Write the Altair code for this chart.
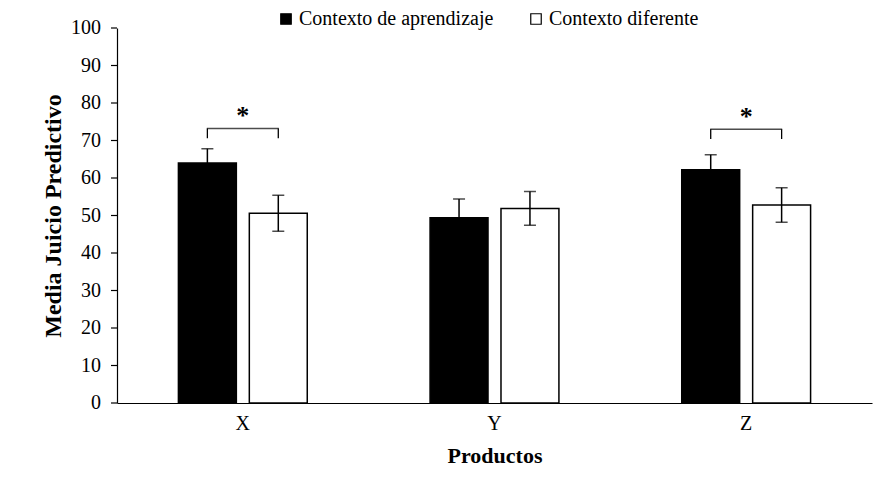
import altair as alt
import pandas as pd

categories = ["X", "Y", "Z"]
series = ["Contexto de aprendizaje", "Contexto diferente"]
aprendizaje = [64.0, 49.4, 62.2]
diferente = [50.6, 51.9, 52.8]
err_aprendizaje = [3.8, 5.0, 4.0]
err_diferente = [4.8, 4.5, 4.6]
sig_categories = ["X", "Z"]
sig_bracket_top = [73.2, 73.0]
sig_bracket_bottom = [70.6, 70.4]
sig_star_y = [78.0, 77.5]
y_ticks = list(range(0, 101, 10))

rows = []
for i, c in enumerate(categories):
    rows.append({"cat": c, "grupo": series[0], "media": aprendizaje[i], "err": err_aprendizaje[i]})
    rows.append({"cat": c, "grupo": series[1], "media": diferente[i], "err": err_diferente[i]})
df = pd.DataFrame(rows)
df["lo"] = df["media"] - df["err"]
df["hi"] = df["media"] + df["err"]

br = []
for i, c in enumerate(sig_categories):
    for g in series:
        br.append({"cat": c, "grupo": g, "top": sig_bracket_top[i], "bot": sig_bracket_bottom[i]})
df_br = pd.DataFrame(br)
df_sig = pd.DataFrame({"cat": sig_categories, "top": sig_bracket_top, "star": sig_star_y})
df_ticks = pd.DataFrame({"v": y_ticks, "lab": [str(v) for v in y_ticks]})

FONT = "Liberation Serif"

x_axis = alt.Axis(title="Productos", labelAngle=0, ticks=False)
x_scale = alt.Scale(paddingInner=0, paddingOuter=0)
x_enc = alt.X("cat:N", sort=categories, scale=x_scale, axis=x_axis)
xoff = alt.XOffset("grupo:N", sort=series,
                   scale=alt.Scale(paddingInner=0.183, paddingOuter=0.866))
y_scale = alt.Scale(domain=[0, 100], nice=False)
y_axis = alt.Axis(title="Media Juicio Predictivo", values=y_ticks, labels=False, ticks=False)


def Y(field):
    return alt.Y(field, scale=y_scale, axis=y_axis)


bars = alt.Chart(df).mark_bar(stroke="black", strokeWidth=1.5).encode(
    x=x_enc,
    xOffset=xoff,
    y=Y("media:Q"),
    fill=alt.Fill("grupo:N", sort=series,
                  scale=alt.Scale(domain=series, range=["black", "white"]),
                  legend=alt.Legend(title=None, orient="none", legendX=159, legendY=-19,
                                    direction="horizontal", symbolType="square",
                                    symbolSize=110, symbolStrokeColor="black",
                                    symbolStrokeWidth=1.2, labelFont=FONT, labelFontSize=20,
                                    labelLimit=0, labelColor="black", columnPadding=32,
                                    labelOffset=3)),
)

err_rule = alt.Chart(df).mark_rule(color="black", strokeWidth=1.5).encode(
    x=x_enc, xOffset=xoff, y=Y("lo:Q"), y2="hi:Q")
err_top = alt.Chart(df).mark_tick(color="black", size=12, thickness=1.5, orient="horizontal").encode(
    x=x_enc, xOffset=xoff, y=Y("hi:Q"))
err_bot = alt.Chart(df).mark_tick(color="black", size=12, thickness=1.5, orient="horizontal").encode(
    x=x_enc, xOffset=xoff, y=Y("lo:Q"))

br_ends = alt.Chart(df_br).mark_rule(color="black", strokeWidth=1.3).encode(
    x=x_enc, xOffset=xoff, y=Y("top:Q"), y2="bot:Q")
br_line = alt.Chart(df_sig).mark_tick(color="black", size=72, thickness=1.3, orient="horizontal").encode(
    x=x_enc, y=Y("top:Q"))
stars = alt.Chart(df_sig).mark_text(text="*", font=FONT, fontSize=26, fontWeight="bold",
                                    color="black", baseline="middle", dy=5).encode(
    x=x_enc, y=Y("star:Q"))

# y-axis tick marks and labels placed through the y scale
tick_marks = alt.Chart(df_ticks).mark_rule(color="black", strokeWidth=1.2).encode(
    x=alt.value(-6), x2=alt.value(0), y=Y("v:Q"))
tick_labels = alt.Chart(df_ticks).mark_text(font=FONT, fontSize=20, color="black",
                                            align="right", baseline="middle").encode(
    x=alt.value(-16), y=Y("v:Q"), text="lab:N")

chart = alt.layer(bars, err_rule, err_top, err_bot, br_ends, br_line, stars,
                  tick_marks, tick_labels).properties(
    width=755, height=375,
    padding={"left": 109, "top": 20, "right": 2, "bottom": 80},
    autosize=alt.AutoSizeParams(type="none"),
    background="white",
).configure(font=FONT).configure_view(stroke=None).configure_axis(
    labelFont=FONT, titleFont=FONT, labelFontSize=20, titleFontSize=22,
    titleFontWeight="bold", labelColor="black", titleColor="black",
    domainColor="black", tickColor="black", domainWidth=1.2, tickWidth=1.2,
    labelOverlap=False, grid=False,
).configure_axisX(
    labelPadding=10, titlePadding=12, ticks=False,
).configure_axisY(
    titleFontSize=24, titlePadding=52,
)

chart.save("out.html", embed_options={"renderer": "svg", "actions": False})
